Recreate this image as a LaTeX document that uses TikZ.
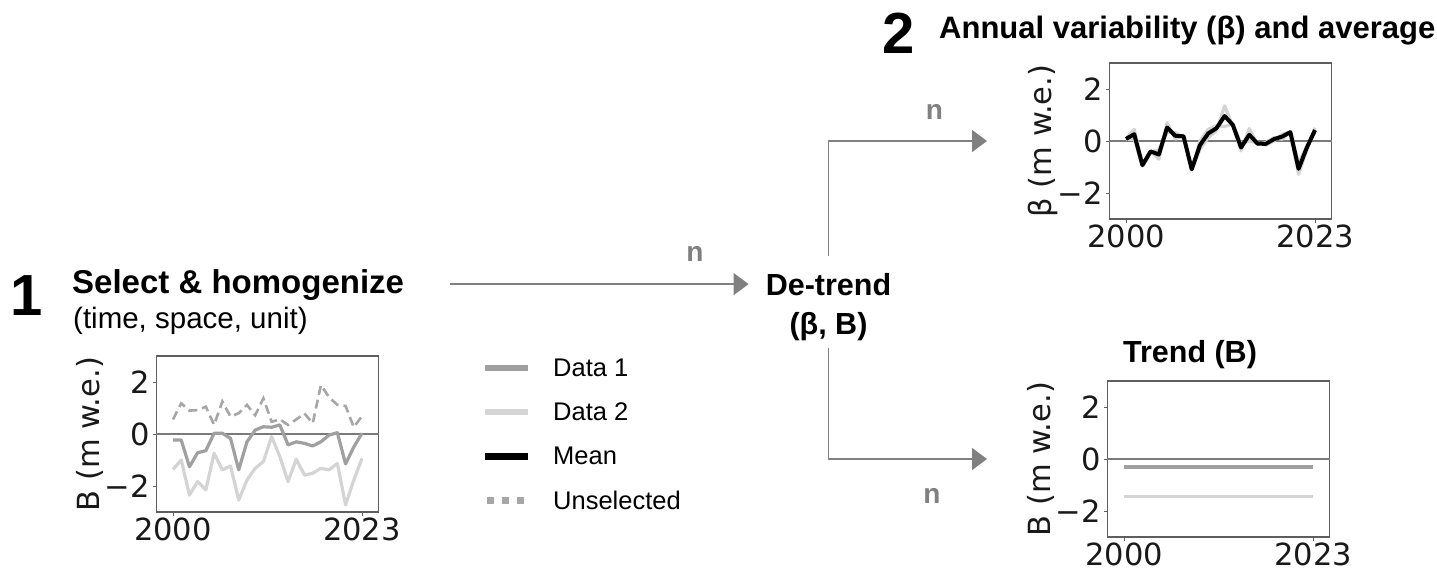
\documentclass[tikz,border=0pt]{standalone}
\usepackage{fontspec}
\setmainfont{Liberation Sans}
\newfontfamily\plotfont{DejaVu Sans}
\usetikzlibrary{arrows.meta}

\definecolor{arrowgray}{HTML}{808080}
\definecolor{dataone}{HTML}{A0A0A0}
\definecolor{datatwo}{HTML}{D4D4D4}
\definecolor{unselgray}{HTML}{A6A6A6}
\definecolor{framegray}{HTML}{5E5E5E}
\definecolor{zerogray}{HTML}{7A7A7A}

\newcommand{\fs}[1]{\fontsize{#1}{#1}\selectfont}

\tikzset{
  conn/.style={draw=arrowgray, line width=1.5pt, -{Triangle[length=15pt,width=22pt]}},
  axframe/.style={draw=framegray, line width=1.4pt, minimum width=222pt,
    minimum height=156pt, inner sep=0pt, anchor=west},
  zeroline/.style={draw=zerogray, line width=1.4pt},
  tickmark/.style={draw=framegray, line width=1pt},
  ticklbl/.style={font=\plotfont\fs{30.5}, inner sep=0pt, text=black!90},
  bignum/.style={font=\bfseries\fs{58}, inner sep=0pt, anchor=base west},
  heading/.style={font=\bfseries\fs{30.5}, inner sep=0pt},
  nlbl/.style={font=\bfseries\fs{28}, text=arrowgray, inner sep=0pt},
  legtxt/.style={font=\fs{25.5}, inner sep=0pt, anchor=west},
  d1line/.style={draw=dataone, line width=3.2pt, line join=round},
  d2line/.style={draw=datatwo, line width=3.2pt, line join=round},
  meanline/.style={draw=black, line width=4pt, line join=round},
  unselline/.style={draw=unselgray, line width=2.6pt, dash pattern=on 9pt off 5pt},
}

% Axes box with zero line, ticks and labels: name, left x, zero y, y-axis label
\newcommand{\axesbox}[4]{%
  \node[axframe] (#1) at (#2,#3) {};
  \draw[zeroline] (#1.west) -- (#1.east);
  \foreach \v/\t in {2/2, 0/0, -2/{−2}} {
    \draw[tickmark] ([yshift={\v*26pt}]#1.west) -- ++(-3.5,0);
    \node[ticklbl, anchor=east] (#1-y\v) at ([xshift=-6pt, yshift={\v*26pt}]#1.west) {\t};
  }
  \draw[tickmark] ([xshift=17pt]#1.south west) -- ++(0,3.5);
  \draw[tickmark] ([xshift=206pt]#1.south west) -- ++(0,3.5);
  \node[ticklbl, anchor=north] (#1-xa) at ([xshift=17pt, yshift=-5pt]#1.south west) {2000};
  \node[ticklbl, anchor=north] (#1-xb) at ([xshift=206pt, yshift=-5pt]#1.south west) {2023};
  \node[ticklbl, rotate=90] (#1-lab) at ([xshift=-66pt]#1.west) {#4};
}

\begin{document}
\begin{tikzpicture}[x=1pt, y=-1pt]
\useasboundingbox (0,0) rectangle (1437,570);

% ---------- step 1: selection ----------
\node[bignum] (num1) at (10,315) {1};
\node[heading, font=\bfseries\fs{33}, anchor=base west] (sel) at (72,293) {Select \& homogenize};
\node[font=\fs{29.5}, inner sep=0pt, anchor=base west] (selsub) at (73,328) {(time, space, unit)};

\axesbox{axin}{156}{434}{B (m w.e.)}
\begin{scope}[shift={([xshift=17pt]axin.west)}, x=8.2174pt, y=26pt]
  \draw[unselline] plot coordinates {(0,0.56) (1,1.18) (2,0.90) (3,0.92) (4,1.05) (5,0.35) (6,1.25) (7,0.67) (8,0.80) (9,1.12) (10,0.72) (11,1.37) (12,0.47) (13,0.56) (14,0.35) (15,0.56) (16,0.79) (17,0.41) (18,1.88) (19,1.41) (20,1.12) (21,1.08) (22,0.26) (23,0.69)};
  \draw[d2line] plot coordinates {(0,-1.36) (1,-1.00) (2,-2.35) (3,-1.83) (4,-2.15) (5,-0.74) (6,-1.38) (7,-1.23) (8,-2.54) (9,-1.77) (10,-1.32) (11,-1.06) (12,-0.10) (13,-0.87) (14,-1.83) (15,-0.97) (16,-1.58) (17,-1.51) (18,-1.32) (19,-1.38) (20,-1.13) (21,-2.73) (22,-1.77) (23,-0.94)};
  \draw[d1line] plot coordinates {(0,-0.23) (1,-0.23) (2,-1.26) (3,-0.72) (4,-0.64) (5,0.03) (6,0.03) (7,-0.17) (8,-1.38) (9,-0.30) (10,0.15) (11,0.28) (12,0.26) (13,0.35) (14,-0.42) (15,-0.30) (16,-0.36) (17,-0.46) (18,-0.30) (19,-0.04) (20,0.05) (21,-1.15) (22,-0.50) (23,0.03)};
\end{scope}

% ---------- legend ----------
\draw[draw=dataone, line width=6pt] (485,368) -- (528,368);
\node[legtxt] (leg1) at (553,368) {Data 1};
\draw[draw=datatwo, line width=6pt] (485,412) -- (528,412);
\node[legtxt] (leg2) at (553,412) {Data 2};
\draw[draw=black, line width=7pt] (485,456) -- (528,456);
\node[legtxt] (leg3) at (553,456) {Mean};
\draw[draw=unselgray, line width=7pt, dash pattern=on 7pt off 8pt] (487,500) -- (528,500);
\node[legtxt] (leg4) at (553,500) {Unselected};

% ---------- de-trending ----------
\node[heading, anchor=base] (detrend) at (828.5,295) {De-trend};
\node[heading, anchor=base] (detrendsub) at (828.5,334) {(β, B)};

\coordinate (mainstart) at ([xshift=46pt]sel.east);
\draw[conn] (mainstart |- detrend.west) -- ([xshift=-17pt]detrend.west);
\node[nlbl] (n1) at (695,254) {n};

% ---------- step 2: annual variability ----------
\node[bignum] (num2) at (882,53) {2};
\node[heading, font=\bfseries\fs{31}, anchor=base west] (annual) at (939,38) {Annual variability (β) and average};

\axesbox{axtop}{1109}{141}{β (m w.e.)}
\begin{scope}[shift={([xshift=17pt]axtop.west)}, x=8.2174pt, y=26pt]
  \draw[d2line] plot coordinates {(0,0.09) (1,0.45) (2,-0.90) (3,-0.38) (4,-0.70) (5,0.71) (6,0.07) (7,0.22) (8,-1.09) (9,-0.32) (10,0.13) (11,0.39) (12,1.35) (13,0.58) (14,-0.38) (15,0.48) (16,-0.13) (17,-0.06) (18,0.13) (19,0.07) (20,0.32) (21,-1.28) (22,-0.32) (23,0.51)};
  \draw[d2line] plot coordinates {(0,0.07) (1,0.07) (2,-0.96) (3,-0.42) (4,-0.34) (5,0.33) (6,0.33) (7,0.13) (8,-1.08) (9,0.00) (10,0.45) (11,0.58) (12,0.56) (13,0.65) (14,-0.12) (15,0.00) (16,-0.06) (17,-0.16) (18,0.00) (19,0.26) (20,0.35) (21,-0.85) (22,-0.20) (23,0.33)};
  \draw[meanline] plot coordinates {(0,0.08) (1,0.26) (2,-0.93) (3,-0.40) (4,-0.52) (5,0.52) (6,0.20) (7,0.18) (8,-1.09) (9,-0.16) (10,0.29) (11,0.49) (12,0.96) (13,0.62) (14,-0.25) (15,0.24) (16,-0.10) (17,-0.11) (18,0.07) (19,0.17) (20,0.34) (21,-1.07) (22,-0.26) (23,0.42)};
\end{scope}

\draw[conn] ([yshift=17pt]detrend.north) |- ([xshift=-122pt]axtop.west);
\node[nlbl] (n2) at (934.5,112) {n};

% ---------- trend ----------
\node[heading, anchor=base] (trendttl) at (1190,362) {Trend (B)};
\axesbox{axbot}{1107}{459}{B (m w.e.)}
\begin{scope}[shift={([xshift=17pt]axbot.west)}, x=8.2174pt, y=26pt]
  \draw[draw=dataone, line width=4pt] (0,-0.30) -- (23,-0.30);
  \draw[draw=datatwo, line width=3pt] (0,-1.45) -- (23,-1.45);
\end{scope}

\draw[conn] ([yshift=-7pt]detrendsub.south) |- ([xshift=-120pt]axbot.west);
\node[nlbl] (n3) at (932,496) {n};

\end{tikzpicture}
\end{document}
